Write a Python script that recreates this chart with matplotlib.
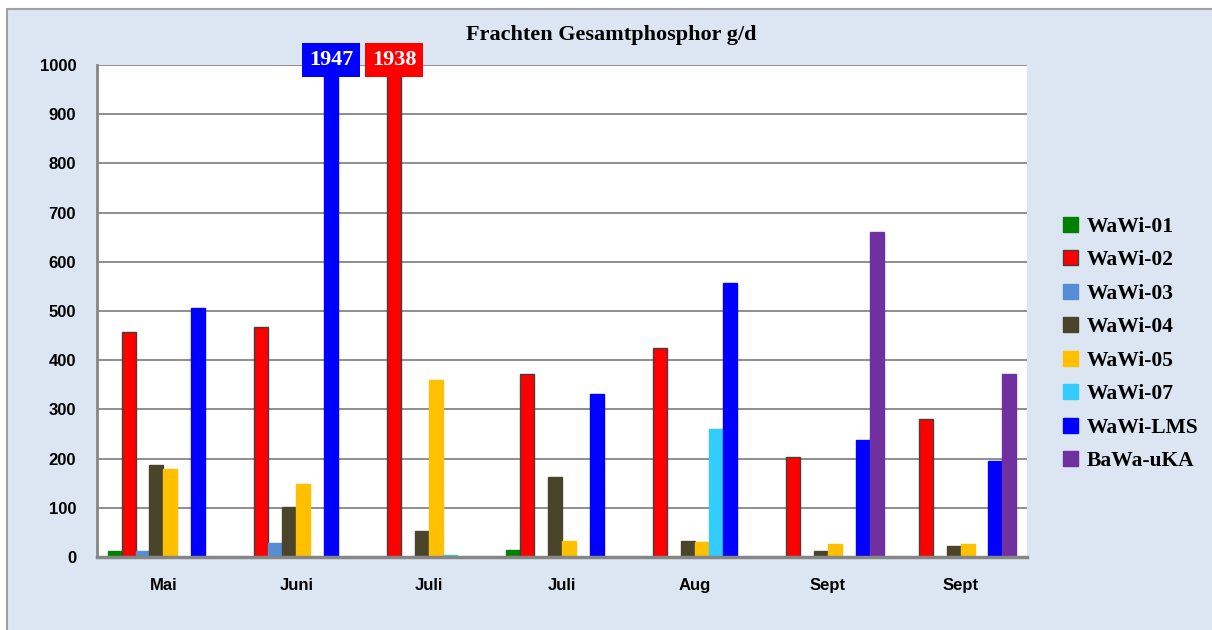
import numpy as np
import matplotlib.pyplot as plt
from matplotlib.patches import Rectangle

# Daten (g/d)
monate = ["Mai", "Juni", "Juli", "Juli", "Aug", "Sept", "Sept"]
serien = ["WaWi-01", "WaWi-02", "WaWi-03", "WaWi-04", "WaWi-05", "WaWi-07", "WaWi-LMS", "BaWa-uKA"]
wawi01 = [13, 0, 0, 14, 1, 0, 0]
wawi02 = [457, 467, 1938, 371, 424, 203, 281]
wawi03 = [13, 28, 0, 0, 0, 0, 0]
wawi04 = [187, 102, 52, 162, 33, 12, 22]
wawi05 = [179, 148, 360, 32, 31, 27, 27]
wawi07 = [1, 0, 5, 1, 261, 0, 0]
wawi_lms = [506, 1947, 0, 332, 557, 238, 196]
bawa_uka = [0, 0, 0, 0, 0, 660, 371]
werte = [wawi01, wawi02, wawi03, wawi04, wawi05, wawi07, wawi_lms, bawa_uka]
farben = ["#008000", "#FF0000", "#558ED5", "#4A452A", "#FFC000", "#33CCFF", "#0000FF", "#7030A0"]
ymax = 1000

hintergrund = "#DCE6F2"
serif = "Liberation Serif"
sans = "Liberation Sans"

fig = plt.figure(figsize=(12.12, 6.3), dpi=100)
fig.patch.set_facecolor("white")
# hellblauer Diagrammbereich
fig.patches.append(Rectangle((7 / 1212, -0.05), 1.0, 1 - 9 / 630 + 0.05, transform=fig.transFigure,
                             facecolor=hintergrund, edgecolor="#A0A0A0", linewidth=1.5, zorder=-10))

ax = fig.add_axes([97 / 1212, 1 - 557 / 630, 930 / 1212, 492 / 630])
ax.set_facecolor("white")

x = np.arange(len(monate))
breite = 0.105
for i, (name, vals, farbe) in enumerate(zip(serien, werte, farben)):
    pos = x + (i - 3.5) * breite
    kante = "#404040" if name == "WaWi-02" else farbe
    ax.bar(pos, vals, width=breite, color=farbe, edgecolor=kante, linewidth=1.0, label=name, zorder=3)
    # Werte über der Achsengrenze beschriften
    for p, v in zip(pos, vals):
        if v > ymax:
            ax.text(p, ymax + 10, str(v), ha="center", va="center", color="white",
                    fontsize=16, fontweight="bold", family=serif, clip_on=False, zorder=5,
                    bbox=dict(boxstyle="square,pad=0.3", facecolor=farbe, edgecolor="none"))

ax.set_xlim(-0.5, len(monate) - 0.5)
ax.set_ylim(0, ymax)
ax.set_yticks(np.arange(0, ymax + 1, 100))
ax.set_xticks(x)
ax.set_xticklabels(monate)
ax.yaxis.grid(True, color="#868686", linewidth=1.3, zorder=0)
ax.set_axisbelow(True)
ax.tick_params(length=0)
ax.tick_params(axis="y", pad=15)
ax.tick_params(axis="x", pad=15)
for lab in ax.get_xticklabels() + ax.get_yticklabels():
    lab.set_fontfamily(sans)
    lab.set_fontweight("bold")
    lab.set_fontsize(12)
for s in ["top", "right"]:
    ax.spines[s].set_visible(False)
ax.spines["left"].set_color("#868686")
ax.spines["left"].set_linewidth(2)
ax.spines["bottom"].set_color("#868686")
ax.spines["bottom"].set_linewidth(2.5)
ax.spines["bottom"].set_zorder(4)

fig.text(611 / 1212, 1 - 35 / 630, "Frachten Gesamtphosphor g/d", ha="center", va="center",
         fontsize=16, fontweight="bold", family=serif)

fig.legend(loc="center left", bbox_to_anchor=(1044 / 1212, 1 - 344 / 630), frameon=False,
           prop=dict(family=serif, weight="bold", size=15.5), handlelength=0.7, handleheight=0.7,
           handletextpad=0.4, labelspacing=0.62)

fig.savefig("out.png", dpi=100, facecolor=fig.get_facecolor())
